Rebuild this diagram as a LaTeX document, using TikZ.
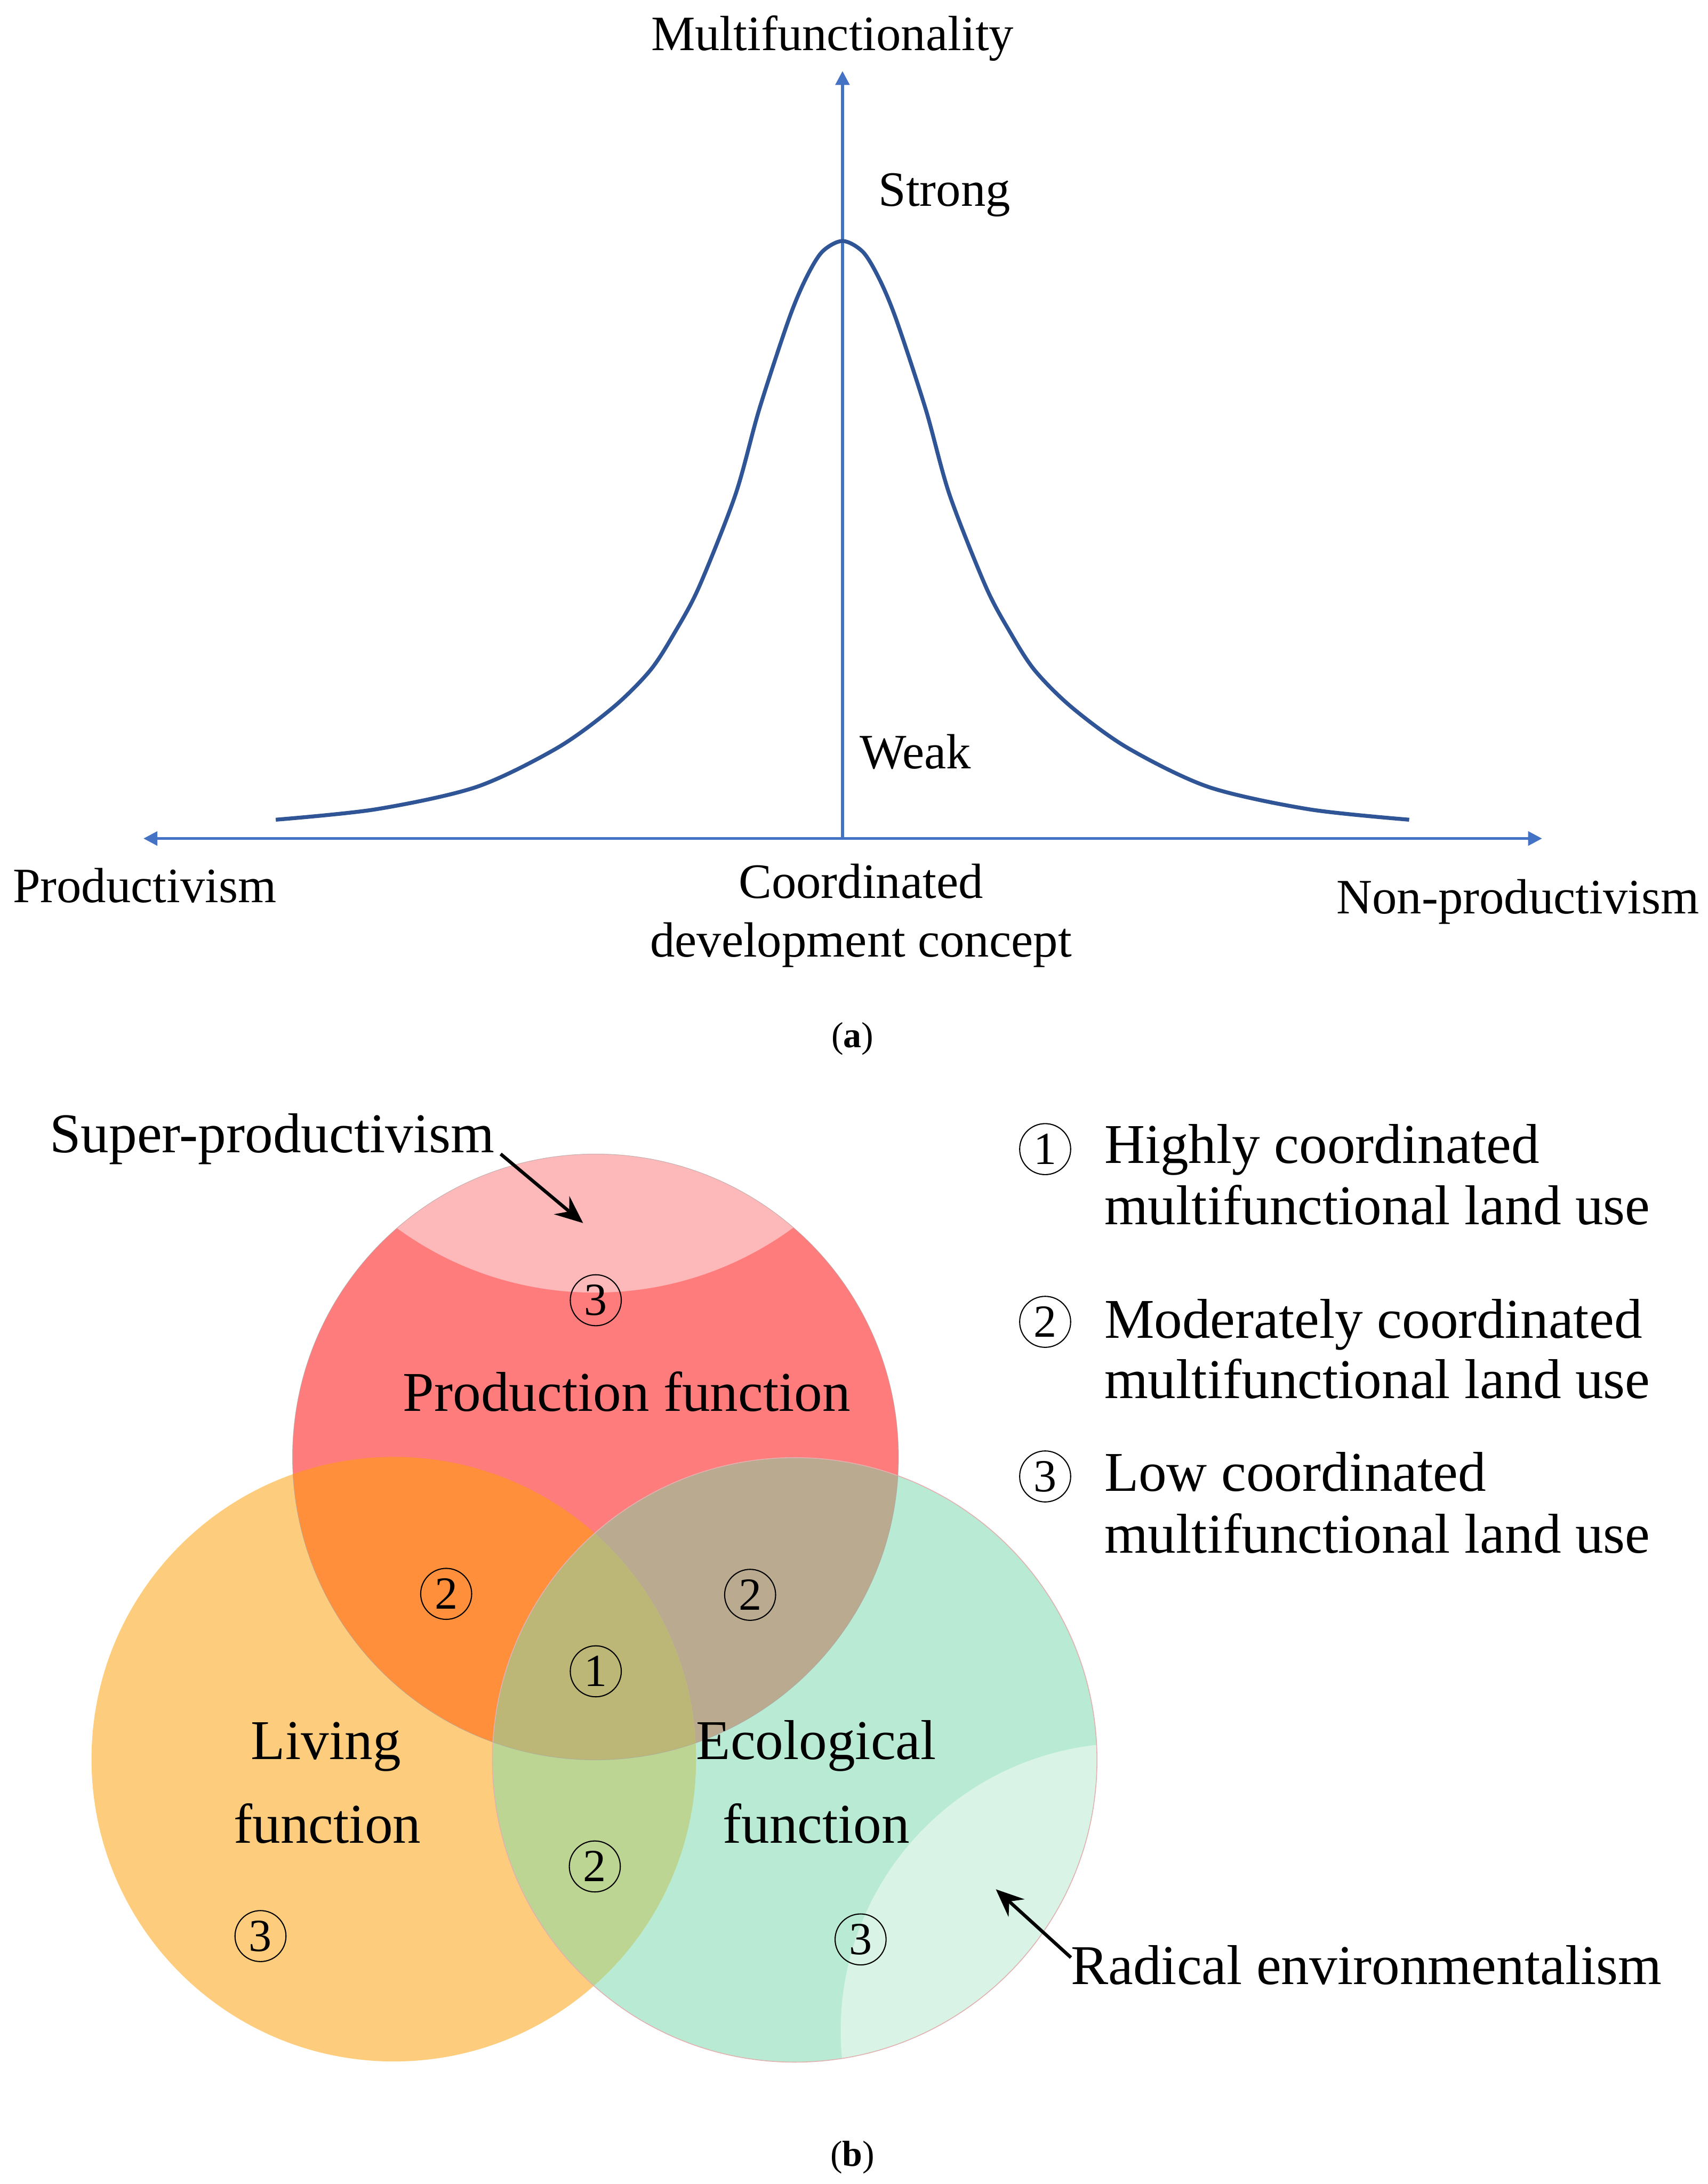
\documentclass[tikz,border=0pt]{standalone}
\usepackage{fontspec}
\setmainfont{Liberation Serif}
\usetikzlibrary{arrows.meta}
\definecolor{axisblue}{HTML}{4472C4}
\definecolor{curveblue}{HTML}{2F5597}
\definecolor{prodc}{HTML}{FF7C7C}
\definecolor{superc}{HTML}{FDB9B9}
\definecolor{livc}{HTML}{FDCD7D}
\definecolor{ecoc}{HTML}{B9EAD3}
\definecolor{radc}{HTML}{D9F4E6}
\definecolor{plc}{HTML}{FF8F3B}
\definecolor{pec}{HTML}{BAAA90}
\definecolor{lec}{HTML}{BDD592}
\definecolor{allc}{HTML}{BCB776}
\definecolor{ecoedge}{HTML}{E3B0B0}
\begin{document}
\begin{tikzpicture}[x=1pt,y=-1pt,
  lbl/.style={inner sep=0pt, font=\fontsize{35.5}{40}\selectfont},
  big/.style={inner sep=0pt, font=\fontsize{40.3}{46}\selectfont},
  captxt/.style={inner sep=0pt, font=\fontsize{26}{30}\selectfont},
  num/.style={circle, draw=black, line width=0.8pt, minimum size=36.6pt, inner sep=0pt, font=\fontsize{33}{34}\selectfont},
  axisline/.style={draw=axisblue, line width=2pt},
  ptr/.style={draw=black, line width=2.4pt, -{Stealth[length=20pt,width=17pt,inset=7pt]}}]

\useasboundingbox (0,0) rectangle (1226,1568);
\fill[white] (0,0) rectangle (1226,1568);

% ---------------- (a) ----------------
\coordinate (O) at (604.8,602);
\coordinate (axL) at (103,602);
\coordinate (axR) at (1107,602);
\coordinate (axT) at (604.8,51);
\draw[axisline, {Triangle[length=10pt,width=10pt]}-{Triangle[length=10pt,width=10pt]}] (axL) -- (axR);
\draw[axisline, -{Triangle[length=10pt,width=10pt]}] (O) -- (axT);

\draw[curveblue, line width=2.8pt, line cap=butt] plot[smooth, tension=0.5] coordinates {
 (198,588.5) (270,581) (342,565) (400,537) (440,508) (467,481) (485,453) (502,421)
 (528,355) (545,294) (566,230) (578,201) (590,181) (604.8,173)
 (619.6,181) (631.6,201) (643.6,230) (664.6,294) (681.6,355) (707.6,421) (724.6,453)
 (742.6,481) (769.6,508) (809.6,537) (867.6,565) (939.6,581) (1011.6,588.5)};

\node[lbl, anchor=base] (mf) at (597.6,36) {Multifunctionality};
\node[lbl, anchor=base west] (strong) at (630.5,148) {Strong};
\node[lbl, anchor=base west] (weak) at (617,552) {Weak};
\node[lbl, anchor=base west] (prodv) at (9,648) {Productivism};
\node[lbl, anchor=base] (coord1) at (618,645) {Coordinated};
\node[lbl, anchor=base] (coord2) at (618,687) {development concept};
\node[lbl, anchor=base east] (nonprod) at (1220,656) {Non-productivism};
\node[captxt, anchor=base] (capa) at (612,752) {(\textbf{a})};

% ---------------- (b) ----------------
\coordinate (P) at (427.5,1046);
\coordinate (L) at (282.7,1263);
\coordinate (E) at (570.5,1263.5);
\coordinate (S) at (427,687);
\coordinate (R) at (810,1458);

\fill[livc] (L) circle[radius=217pt];
\fill[ecoc] (E) circle[radius=217pt];
\fill[prodc] (P) circle[radius=217.5pt];
\begin{scope}
  \clip (P) circle[radius=217.5pt];
  \fill[superc] (S) circle[radius=241pt];
\end{scope}
\begin{scope}
  \clip (E) circle[radius=217pt];
  \fill[radc] (R) circle[radius=206.5pt];
\end{scope}
\begin{scope}
  \clip (P) circle[radius=217.5pt];
  \fill[plc] (L) circle[radius=217pt];
  \fill[pec] (E) circle[radius=217pt];
\end{scope}
\begin{scope}
  \clip (L) circle[radius=217pt];
  \fill[lec] (E) circle[radius=217pt];
\end{scope}
\begin{scope}
  \clip (P) circle[radius=217.5pt];
  \clip (L) circle[radius=217pt];
  \fill[allc] (E) circle[radius=217pt];
\end{scope}
\draw[ecoedge, line width=0.6pt] (E) circle[radius=217pt];
\draw[black!35, line width=0.4pt, opacity=0.6] (P) circle[radius=217.5pt];

% circled numbers in the diagram
\node[num] (c3p) at (427.7,933.5) {3};
\node[num] (c2pl) at (320.3,1144.3) {2};
\node[num] (c2pe) at (538.5,1145) {2};
\node[num] (c1) at (427.7,1199.9) {1};
\node[num] (c2le) at (427,1340) {2};
\node[num] (c3l) at (187,1390) {3};
\node[num] (c3e) at (617.8,1392.4) {3};

% function labels
\node[big, anchor=base] (prodf) at (450,1013) {Production function};
\node[big, anchor=base] (liv1) at (234,1263) {Living};
\node[big, anchor=base] (liv2) at (235,1323) {function};
\node[big, anchor=base] (eco1) at (586,1263) {Ecological};
\node[big, anchor=base] (eco2) at (586,1323) {function};

% pointers
\node[big, anchor=base west] (sp) at (35.5,827.6) {Super-productivism};
\coordinate (spTail) at (359.4,828.5);
\coordinate (spTip) at (418.6,878.1);
\draw[ptr] (spTail) -- (spTip);

\node[big, anchor=base west] (re) at (768.6,1424.6) {Radical environmentalism};
\coordinate (reTail) at (768.8,1405.4);
\coordinate (reTip) at (714.9,1356.4);
\draw[ptr] (reTail) -- (reTip);

% legend
\node[num] (k1) at (750.3,825) {1};
\node[big, anchor=base west] (k1a) at (792.6,835) {Highly coordinated};
\node[big, anchor=base west] (k1b) at (792.6,879) {multifunctional land use};
\node[num] (k2) at (750.3,949) {2};
\node[big, anchor=base west] (k2a) at (792.6,960.5) {Moderately coordinated};
\node[big, anchor=base west] (k2b) at (792.6,1004) {multifunctional land use};
\node[num] (k3) at (750.3,1060) {3};
\node[big, anchor=base west] (k3a) at (792.6,1070.5) {Low coordinated};
\node[big, anchor=base west] (k3b) at (792.6,1115) {multifunctional land use};

\node[captxt, anchor=base] (capb) at (612,1555) {(\textbf{b})};
\end{tikzpicture}
\end{document}
